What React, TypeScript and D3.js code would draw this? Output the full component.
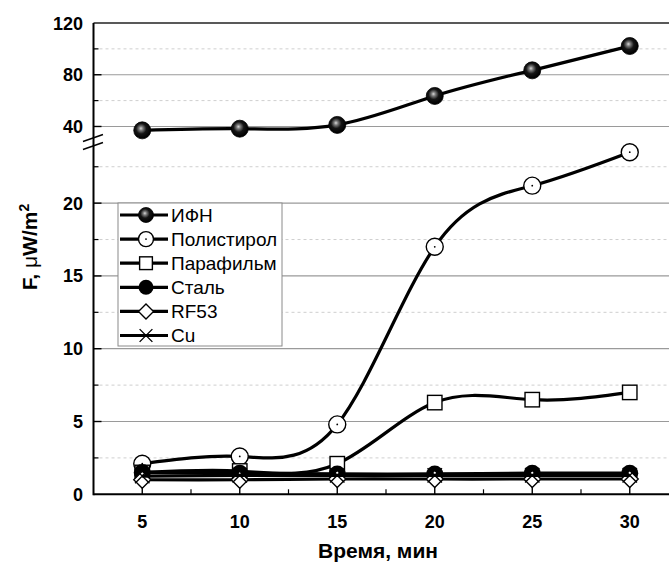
import { useEffect, useRef } from 'react';
import * as d3 from 'd3';

const times = [5, 10, 15, 20, 25, 30];
const ifn = [37, 38.3, 41.2, 63.6, 83.4, 102.2];
const polystyrene = [2.1, 2.6, 4.8, 17.0, 21.2, 23.5];
const parafilm = [1.5, 1.6, 2.1, 6.3, 6.5, 7.0];
const steel = [1.5, 1.45, 1.4, 1.4, 1.45, 1.45];
const rf53 = [1.0, 1.0, 1.05, 1.05, 1.05, 1.05];
const cu = [1.25, 1.3, 1.3, 1.3, 1.3, 1.3];

const seriesNames = ['ИФН', 'Полистирол', 'Парафильм', 'Сталь', 'RF53', 'Cu'];
const seriesMarkers = ['sphere', 'openCircle', 'square', 'filledCircle', 'diamond', 'cross'];

const xTicks = [5, 10, 15, 20, 25, 30];
const xMinorTicks = [7.5, 12.5, 17.5, 22.5, 27.5];
const upperTicks = [120, 80, 40];
const upperMinor = [100, 60];
const lowerTicks = [20, 15, 10, 5, 0];
const lowerMinor = [22.5, 17.5, 12.5, 7.5, 2.5];

const W = 669;
const H = 562;

type Sel = d3.Selection<SVGGElement, unknown, null, undefined>;

function drawMarker(g: Sel, type: string, cx: number, cy: number, r: number) {
  if (type === 'sphere') {
    g.append('circle').attr('cx', cx).attr('cy', cy).attr('r', r)
      .attr('fill', 'url(#sphereGrad)').attr('stroke', '#000').attr('stroke-width', 0.8);
  } else if (type === 'openCircle') {
    g.append('circle').attr('cx', cx).attr('cy', cy).attr('r', r)
      .attr('fill', '#fff').attr('stroke', '#000').attr('stroke-width', 1.4);
    g.append('circle').attr('cx', cx).attr('cy', cy).attr('r', 0.9).attr('fill', '#000');
  } else if (type === 'square') {
    const s = r * 0.85;
    g.append('rect').attr('x', cx - s).attr('y', cy - s).attr('width', 2 * s).attr('height', 2 * s)
      .attr('fill', '#fff').attr('stroke', '#000').attr('stroke-width', 1.4);
  } else if (type === 'filledCircle') {
    g.append('circle').attr('cx', cx).attr('cy', cy).attr('r', r).attr('fill', '#000');
  } else if (type === 'diamond') {
    g.append('path')
      .attr('d', `M${cx},${cy - r}L${cx + r},${cy}L${cx},${cy + r}L${cx - r},${cy}Z`)
      .attr('fill', '#fff').attr('stroke', '#000').attr('stroke-width', 1.4);
  } else if (type === 'cross') {
    const s = r * 0.85;
    g.append('path')
      .attr('d', `M${cx - s},${cy - s}L${cx + s},${cy + s}M${cx - s},${cy + s}L${cx + s},${cy - s}`)
      .attr('stroke', '#000').attr('stroke-width', 1.4).attr('fill', 'none');
  }
}

export default function App() {
  const svgRef = useRef<SVGSVGElement>(null);

  useEffect(() => {
    if (!svgRef.current) return;
    const svg = d3.select(svgRef.current);
    svg.selectAll('*').remove();

    const left = 93.5;
    const bottom = 494.3;
    const top = 23;
    const breakY = 142;

    const x = d3.scaleLinear().domain([2.5, 32.5]).range([left, 678.5]);
    const yLow = d3.scaleLinear().domain([0, 24.2]).range([bottom, breakY]);
    const yHigh = d3.scaleLinear().domain([28, 120]).range([breakY, top]);

    const defs = svg.append('defs');
    const grad = defs.append('radialGradient').attr('id', 'sphereGrad')
      .attr('cx', '45%').attr('cy', '42%').attr('r', '55%')
      .attr('fx', '42%').attr('fy', '38%');
    grad.append('stop').attr('offset', '0%').attr('stop-color', '#d8d8d8');
    grad.append('stop').attr('offset', '22%').attr('stop-color', '#7a7a7a');
    grad.append('stop').attr('offset', '55%').attr('stop-color', '#151515');
    grad.append('stop').attr('offset', '100%').attr('stop-color', '#000');

    const g = svg.append('g') as unknown as Sel;

    // grid
    const gridMajor = [...upperTicks.filter(v => v !== 120).map(v => yHigh(v)), ...lowerTicks.filter(v => v !== 0).map(v => yLow(v))];
    const gridMinor = [...upperMinor.map(v => yHigh(v)), ...lowerMinor.map(v => yLow(v))];
    gridMinor.forEach(yy => {
      g.append('line').attr('x1', left).attr('x2', W).attr('y1', yy).attr('y2', yy)
        .attr('stroke', '#cfcfcf').attr('stroke-width', 1).attr('stroke-dasharray', '3,3');
      g.append('line').attr('x1', left).attr('x2', left + 5).attr('y1', yy).attr('y2', yy)
        .attr('stroke', '#000').attr('stroke-width', 1.2);
    });
    gridMajor.forEach(yy => {
      g.append('line').attr('x1', left).attr('x2', W).attr('y1', yy).attr('y2', yy)
        .attr('stroke', '#9a9a9a').attr('stroke-width', 1.2);
      g.append('line').attr('x1', left).attr('x2', left + 8).attr('y1', yy).attr('y2', yy)
        .attr('stroke', '#000').attr('stroke-width', 1.4);
    });

    // x ticks (inward)
    xTicks.forEach(t => {
      g.append('line').attr('x1', x(t)).attr('x2', x(t)).attr('y1', bottom).attr('y2', bottom - 8)
        .attr('stroke', '#000').attr('stroke-width', 1.4);
    });
    xMinorTicks.forEach(t => {
      g.append('line').attr('x1', x(t)).attr('x2', x(t)).attr('y1', bottom).attr('y2', bottom - 5)
        .attr('stroke', '#000').attr('stroke-width', 1.2);
    });

    // series
    const lowSeries = [polystyrene, parafilm, steel, rf53, cu];
    const allSeries = [ifn, ...lowSeries];
    const line = (ys: (v: number) => number) => d3.line<number>()
      .x((_, i) => x(times[i]))
      .y(d => ys(d))
      .curve(d3.curveNatural);

    allSeries.forEach((vals, si) => {
      const ys = si === 0 ? yHigh : yLow;
      g.append('path').datum(vals)
        .attr('d', line(ys))
        .attr('fill', 'none').attr('stroke', '#000').attr('stroke-width', 3.2);
      vals.forEach((v, i) => drawMarker(g, seriesMarkers[si], x(times[i]), ys(v), 8.5));
    });

    // frame
    g.append('line').attr('x1', left).attr('x2', W).attr('y1', top).attr('y2', top)
      .attr('stroke', '#222').attr('stroke-width', 1.6);
    g.append('line').attr('x1', left).attr('x2', W).attr('y1', bottom).attr('y2', bottom)
      .attr('stroke', '#000').attr('stroke-width', 2);
    g.append('line').attr('x1', left).attr('x2', left).attr('y1', top).attr('y2', bottom + 1)
      .attr('stroke', '#000').attr('stroke-width', 2);

    // axis break marks
    [-4, 4].forEach(dy => {
      g.append('line')
        .attr('x1', left - 10.5).attr('y1', breakY + dy + 3.5)
        .attr('x2', left + 9.5).attr('y2', breakY + dy - 3.5)
        .attr('stroke', '#000').attr('stroke-width', 1.4);
    });

    // y tick labels
    const font = '"Liberation Sans", Arial, sans-serif';
    const yLabels: [string, number][] = [
      ...upperTicks.map(v => [String(v), yHigh(v)] as [string, number]),
      ...lowerTicks.map(v => [String(v), yLow(v)] as [string, number]),
    ];
    yLabels.forEach(([t, yy]) => {
      g.append('text').attr('x', 83).attr('y', yy + 6.5)
        .attr('text-anchor', 'end').attr('font-family', font).attr('font-weight', 'bold')
        .attr('font-size', 18).attr('fill', '#000').text(t);
    });
    xTicks.forEach(t => {
      g.append('text').attr('x', x(t)).attr('y', 527.5)
        .attr('text-anchor', 'middle').attr('font-family', font).attr('font-weight', 'bold')
        .attr('font-size', 18).attr('fill', '#000').text(String(t));
    });

    // axis titles
    g.append('text').attr('x', 378).attr('y', 558)
      .attr('text-anchor', 'middle').attr('font-family', font).attr('font-weight', 'bold')
      .attr('font-size', 21).attr('fill', '#000').text('Время, мин');

    const yt = g.append('text').attr('transform', 'translate(36.5,247) rotate(-90)')
      .attr('text-anchor', 'middle').attr('font-family', font).attr('font-weight', 'bold')
      .attr('font-size', 21).attr('fill', '#000');
    yt.append('tspan').text('F, ');
    yt.append('tspan').attr('font-weight', 'normal').text('μ');
    yt.append('tspan').text('W/m');
    yt.append('tspan').attr('font-size', 14).attr('dy', -8).text('2');

    // legend
    const lx = 118;
    const ly = 203;
    const lw = 164;
    const lh = 143;
    g.append('rect').attr('x', lx).attr('y', ly).attr('width', lw).attr('height', lh)
      .attr('fill', '#fff').attr('stroke', '#8a8a8a').attr('stroke-width', 1);
    seriesNames.forEach((name, i) => {
      const yy = 215 + i * 24.1;
      g.append('line').attr('x1', 120).attr('x2', 168).attr('y1', yy).attr('y2', yy)
        .attr('stroke', '#000').attr('stroke-width', 3.2);
      drawMarker(g, seriesMarkers[i], 146, yy, 7.5);
      g.append('text').attr('x', 171).attr('y', yy + 6.8)
        .attr('font-family', font).attr('font-size', 19).attr('fill', '#000').text(name);
    });
  }, []);

  return (
    <div style={{ position: 'absolute', left: 0, top: 0 }}>
      <svg ref={svgRef} width={W} height={H} style={{ display: 'block', background: '#fff' }} />
    </div>
  );
}
